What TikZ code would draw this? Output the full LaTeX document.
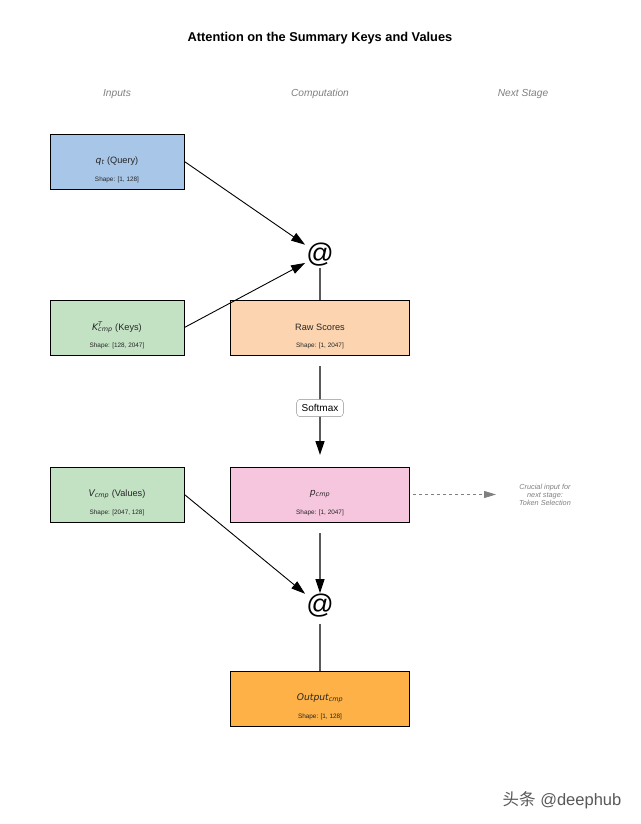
\documentclass[tikz,border=0pt]{standalone}
\usepackage{fontspec}
\setmainfont{Liberation Sans}
\newfontfamily\djv{DejaVu Sans}
\newfontfamily\cjkf{Noto Sans CJK SC}
\usetikzlibrary{arrows.meta}
\definecolor{cq}{RGB}{168,198,232}
\definecolor{cg}{RGB}{195,226,196}
\definecolor{cpe}{RGB}{252,213,176}
\definecolor{cpi}{RGB}{246,198,222}
\definecolor{cor}{RGB}{253,177,71}
\definecolor{hdr}{RGB}{128,128,128}
\definecolor{lnk}{RGB}{90,90,90}
\newcommand\mi[1]{{\djv\itshape #1}}
\begin{document}
\begin{tikzpicture}[x=1pt,y=-1pt,
  boxn/.style={draw=black, line width=0.9pt, minimum width=134pt, minimum height=55pt, inner sep=0pt},
  widebox/.style={boxn, minimum width=179pt},
  lab/.style={font=\fontsize{9.2}{10}\selectfont, text=black!85, inner sep=0pt},
  shp/.style={font=\fontsize{6.4}{7}\selectfont, text=black!85, inner sep=0pt},
  hdrtxt/.style={font=\fontsize{10.2}{12}\selectfont\itshape, text=hdr},
  atn/.style={font=\fontsize{27}{29}\selectfont, inner sep=1pt},
  darr/.style={black, line width=0.9pt, -{Triangle[length=14pt,width=9pt]}},
  varr/.style={lnk, line width=1.3pt, -{Triangle[length=14pt,width=9pt,color=black,fill=black]}},
  vline/.style={lnk, line width=1.3pt}]
\fill[white] (0,0) rectangle (640,824);
\node[font=\fontsize{12.8}{15}\selectfont\bfseries] (title) at (320,38) {Attention on the Summary Keys and Values};
\node[hdrtxt] (h1) at (117,94) {Inputs};
\node[hdrtxt] (h2) at (320,94) {Computation};
\node[hdrtxt] (h3) at (523,94) {Next Stage};
% inputs
\node[boxn, fill=cq] (q) at (117,161.5) {};
\node[lab] (ql) at (117,161) {\mi{q}\textsubscript{\mi{t}} (Query)};
\node[shp] (qs) at (117,180) {Shape: [1, 128]};
\node[boxn, fill=cg] (k) at (117,327.5) {};
\node[lab] (kl) at (117,327) {\mi{K}\rlap{\textsuperscript{\mi{T}}}\textsubscript{\mi{cmp}} (Keys)};
\node[shp] (ks) at (117,346) {Shape: [128, 2047]};
\node[boxn, fill=cg] (v) at (117,494.5) {};
\node[lab] (vl) at (117,494) {\mi{V}\textsubscript{\mi{cmp}} (Values)};
\node[shp] (vs) at (117,513) {Shape: [2047, 128]};
% computation
\node[atn] (at1) at (320,255) {@};
\node[widebox, fill=cpe] (r) at (320,327.5) {};
\node[lab] (rl) at (320,327) {Raw Scores};
\node[shp] (rs) at (320,346) {Shape: [1, 2047]};
\node[widebox, fill=cpi] (p) at (320,494.5) {};
\node[lab] (pl) at (320,494) {\mi{p}\textsubscript{\mi{cmp}}};
\node[shp] (ps) at (320,513) {Shape: [1, 2047]};
\node[atn] (at2) at (320,606) {@};
\node[widebox, fill=cor] (o) at (320,698.5) {};
\node[lab] (ol) at (320,698) {\mi{Output}\textsubscript{\mi{cmp}}};
\node[shp] (os) at (320,717) {Shape: [1, 128]};
% connectors
\draw[darr] (q.east) -- (at1);
\draw[darr] (k.east) -- (at1);
\draw[vline] (at1) -- (r.north);
\draw[varr, shorten <=11pt] (r.south) -- (320,455) coordinate (pin);
\node[draw=black!45, fill=white, rounded corners=3.5pt, font=\fontsize{10}{12}\selectfont, inner xsep=5pt, inner ysep=5pt] (sm) at (320,408) {Softmax};
\draw[darr] (v.east) -- (at2);
\draw[varr, shorten <=11pt] (p.south) -- (at2);
\draw[vline, shorten <=5pt] (at2) -- (o.north);
% next stage
\coordinate (dend) at (496,494.5);
\draw[hdr, dashed, line width=0.8pt, shorten <=3pt, -{Triangle[length=12pt,width=7pt]}] (p.east) -- (dend);
\node[font=\fontsize{7.3}{8}\selectfont\itshape, text=hdr, align=center] (note) at (545,495) {Crucial input for\\next stage:\\Token Selection};
\node[font=\fontsize{16.5}{18}\selectfont, text=black!65] (wm) at (562,800) {{\cjkf 头条} @deephub};
\end{tikzpicture}
\end{document}
